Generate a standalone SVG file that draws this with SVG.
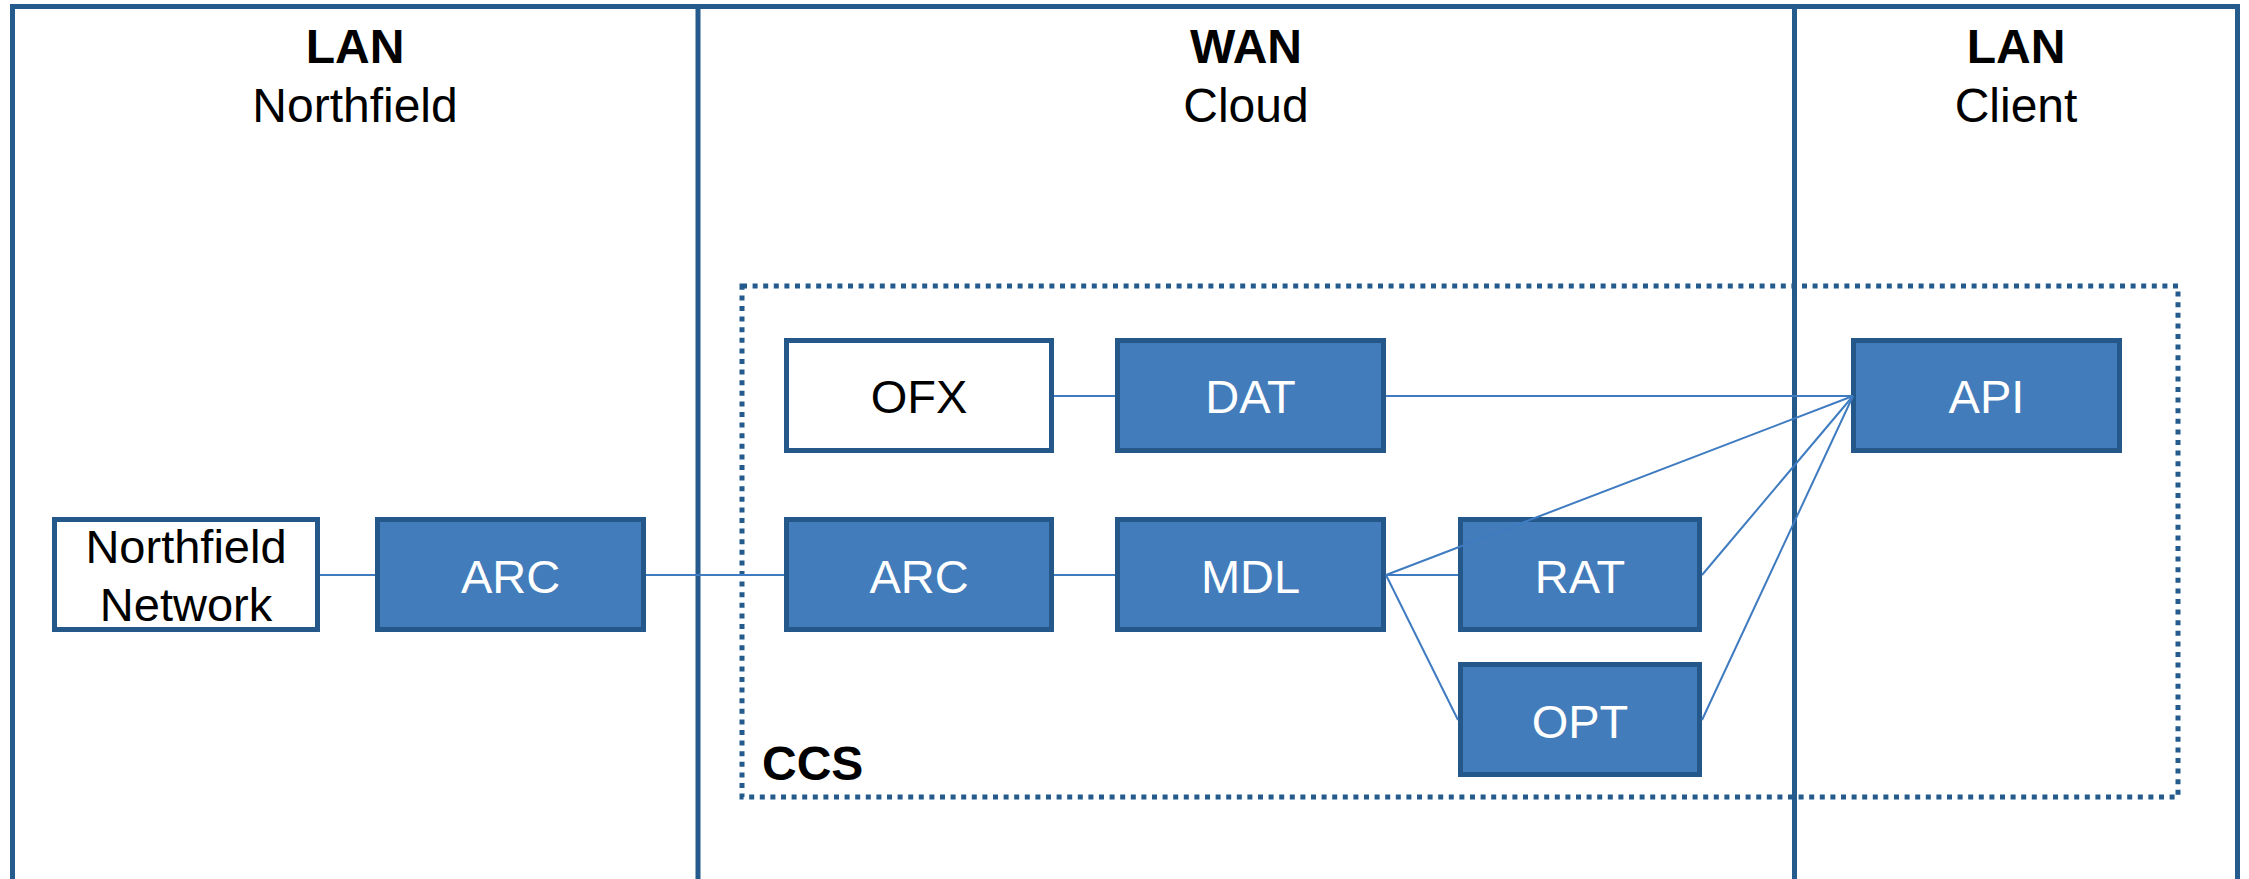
<svg xmlns="http://www.w3.org/2000/svg" width="2249" height="879" viewBox="0 0 2249 879">
<style>
.frame{fill:none;stroke:#245A8C;stroke-width:5}
.ccs{fill:none;stroke:#245A8C;stroke-width:5;stroke-dasharray:5 5.6}
.node{fill:#427CBB;stroke:#24578A;stroke-width:5}
.wnode{fill:#FFFFFF;stroke:#24578A;stroke-width:5}
.lbl{font-family:"Liberation Sans",Arial,sans-serif;font-size:47px;fill:#FFFFFF;text-anchor:middle}
.wlbl{font-family:"Liberation Sans",Arial,sans-serif;font-size:47px;fill:#000000;text-anchor:middle}
.hdr{font-family:"Liberation Sans",Arial,sans-serif;font-size:48px;fill:#000000;text-anchor:middle}
.bold{font-weight:bold}
.conn line{stroke:#3F7BC0;stroke-width:2;fill:none}
</style>
<rect width="2249" height="879" fill="#FFFFFF"/>
<g id="zones">
<path class="frame" d="M12.5,879 V6.5 H2237.5 V879"/>
<line class="frame" x1="698" y1="6.5" x2="698" y2="879"/>
<line class="frame" x1="1794.5" y1="6.5" x2="1794.5" y2="879"/>
<text class="hdr bold" x="355" y="63">LAN</text>
<text class="hdr" x="355" y="122">Northfield</text>
<text class="hdr bold" x="1246" y="63">WAN</text>
<text class="hdr" x="1246" y="122">Cloud</text>
<text class="hdr bold" x="2016" y="63">LAN</text>
<text class="hdr" x="2016" y="122">Client</text>
</g>
<g id="ccs">
<rect class="ccs" x="742" y="286" width="1436" height="511"/>
<text class="hdr bold" x="762" y="780" style="text-anchor:start">CCS</text>
</g>
<g id="northfield-network">
<rect class="wnode" x="54.5" y="519.5" width="263" height="110"/>
<text class="wlbl" x="186" y="563">Northfield</text>
<text class="wlbl" x="186" y="621">Network</text>
</g>
<g id="arc-lan">
<rect class="node" x="377.5" y="519.5" width="266" height="110"/>
<text class="lbl" x="510.5" y="593">ARC</text>
</g>
<g id="ofx">
<rect class="wnode" x="786.5" y="340.5" width="265" height="110"/>
<text class="wlbl" x="919" y="413">OFX</text>
</g>
<g id="dat">
<rect class="node" x="1117.5" y="340.5" width="266" height="110"/>
<text class="lbl" x="1250.5" y="413">DAT</text>
</g>
<g id="arc-wan">
<rect class="node" x="786.5" y="519.5" width="265" height="110"/>
<text class="lbl" x="919" y="593">ARC</text>
</g>
<g id="mdl">
<rect class="node" x="1117.5" y="519.5" width="266" height="110"/>
<text class="lbl" x="1250.5" y="593">MDL</text>
</g>
<g id="rat">
<rect class="node" x="1460.5" y="519.5" width="239" height="110"/>
<text class="lbl" x="1580" y="593">RAT</text>
</g>
<g id="opt">
<rect class="node" x="1460.5" y="664.5" width="239" height="110"/>
<text class="lbl" x="1580" y="738">OPT</text>
</g>
<g id="api">
<rect class="node" x="1853.5" y="340.5" width="266" height="110"/>
<text class="lbl" x="1986.5" y="413">API</text>
</g>
<g class="conn" id="connectors">
<line x1="320" y1="575" x2="375" y2="575"/>
<line x1="646" y1="575" x2="784" y2="575"/>
<line x1="1054" y1="396" x2="1115" y2="396"/>
<line x1="1054" y1="575" x2="1115" y2="575"/>
<line x1="1386" y1="396" x2="1853" y2="396"/>
<line x1="1386" y1="575" x2="1458" y2="575"/>
<line x1="1386" y1="575" x2="1853" y2="396"/>
<line x1="1386" y1="575" x2="1458" y2="720"/>
<line x1="1702" y1="575" x2="1853" y2="396"/>
<line x1="1702" y1="720" x2="1853" y2="396"/>
</g>
</svg>
